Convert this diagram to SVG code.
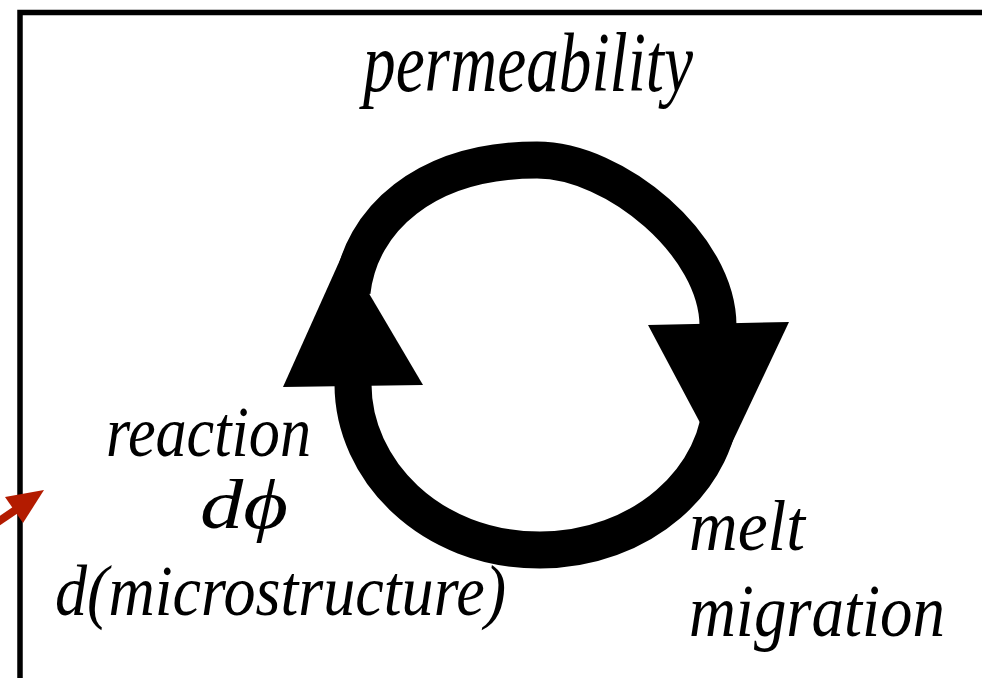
<svg xmlns="http://www.w3.org/2000/svg" width="982" height="678" viewBox="0 0 982 678">
<style>
  .lbl { font-family: "Liberation Serif", "DejaVu Serif", serif; font-style: italic; fill: #000; }
  .loop { fill: none; stroke: #000; stroke-width: 37; stroke-linecap: butt; }
  .head { fill: #000; stroke: none; }
</style>
<rect width="982" height="678" fill="#fff"/>
<g id="frame">
  <path d="M20,678 V12.5 H982" fill="none" stroke="#000" stroke-width="5.5" stroke-linejoin="miter"/>
</g>
<g id="connectors">
  <path class="loop" d="M352,292 C360,220 425,160 537,160 C615,160 718,245 718,326"/>
  <polygon class="head" points="648,325 789,322 722,464"/>
  <path class="loop" d="M722,392 C722,480 640,550 540,550 C430,550 353,470 353,384"/>
  <polygon class="head" points="283,387 423,385 344,251"/>
  <g id="red-arrow">
    <line x1="-20" y1="534" x2="20" y2="507" stroke="#b31b00" stroke-width="8"/>
    <polygon points="44,490 5,497 23,523" fill="#b31b00"/>
  </g>
</g>
<g id="permeability">
  <text class="lbl" x="363" y="91" font-size="84" textLength="330" lengthAdjust="spacingAndGlyphs">permeability</text>
</g>
<g id="reaction">
  <text class="lbl" x="106" y="456" font-size="72" textLength="205" lengthAdjust="spacingAndGlyphs">reaction</text>
  <text class="lbl" x="200" y="528" font-size="70" textLength="88" lengthAdjust="spacingAndGlyphs">dϕ</text>
  <text class="lbl" x="55" y="615" font-size="72" textLength="451" lengthAdjust="spacingAndGlyphs">d(microstructure)</text>
</g>
<g id="melt-migration">
  <text class="lbl" x="689" y="550" font-size="72" textLength="116" lengthAdjust="spacingAndGlyphs">melt</text>
  <text class="lbl" x="689" y="636" font-size="75" textLength="256" lengthAdjust="spacingAndGlyphs">migration</text>
</g>
</svg>
